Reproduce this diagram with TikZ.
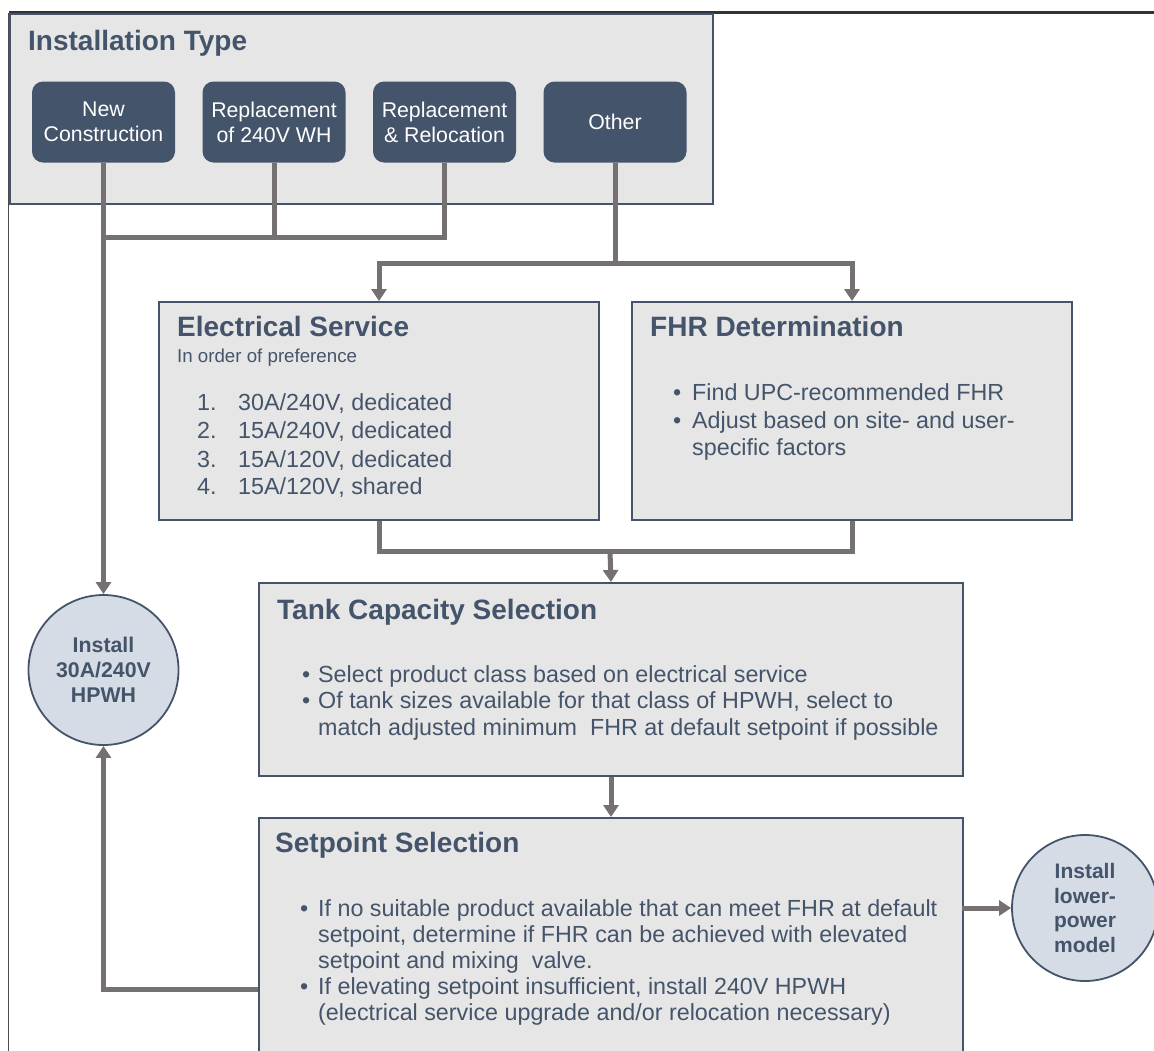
\documentclass[tikz,border=0pt]{standalone}
\usepackage{fontspec}
\setmainfont{Liberation Sans}
\usetikzlibrary{arrows.meta,shapes.geometric}
\definecolor{slate}{HTML}{44546A}
\definecolor{boxfill}{HTML}{E7E6E6}
\definecolor{circfill}{HTML}{D6DCE5}
\definecolor{conncol}{HTML}{767171}
\begin{document}
\begin{tikzpicture}[x=1pt,y=-1pt,
 panel/.style={draw=slate,line width=2pt,fill=boxfill,inner sep=0,anchor=north west},
 choice/.style={fill=slate,rounded corners=11pt,inner sep=0,minimum width=143pt,minimum height=81pt,text=white,align=center,font=\fontsize{21.3}{25}\selectfont},
 endc/.style={circle,draw=slate,line width=1.8pt,fill=circfill,inner sep=0,text=slate,align=center,font=\bfseries\fontsize{21.3}{25}\selectfont},
 ttl/.style={anchor=base west,inner sep=0,text=slate,font=\bfseries\fontsize{28}{30}\selectfont},
 body/.style={anchor=base west,inner sep=0,text=slate,font=\fontsize{23.3}{27}\selectfont},
 small/.style={anchor=base west,inner sep=0,text=slate,font=\fontsize{18.7}{22}\selectfont},
 conn/.style={draw=conncol,line width=5pt},
 arr/.style={conn,-{Triangle[width=15pt,length=12pt]}}
]
\clip (0,0) rectangle (1154,1050);
\fill[white] (0,0) rectangle (1154,1050);
\draw[black!70,line width=1pt] (8.5,1060) -- (8.5,13);
\draw[black!80,line width=2.2pt] (8.5,12.5) -- (1160,12.5);

% panels
\node[panel,minimum width=703pt,minimum height=190pt] (inst) at (9,13) {};
\node[panel,minimum width=440pt,minimum height=218pt] (elec) at (158,301) {};
\node[panel,minimum width=440pt,minimum height=218pt] (fhr) at (631,301) {};
\node[panel,minimum width=704pt,minimum height=193pt] (tank) at (258,582) {};
\node[panel,minimum width=704pt,minimum height=253pt] (setp) at (258,817) {};

% titles
\node[ttl] (tinst) at (28,50) {Installation Type};
\node[ttl] (telec) at (177,336) {Electrical Service};
\node[small] (pref) at (177,362) {In order of preference};
\node[ttl] (tfhr) at (650,336) {FHR Determination};
\node[ttl] (ttank) at (277,619) {Tank Capacity Selection};
\node[ttl] (tsetp) at (275,852) {Setpoint Selection};

% choices
\node[choice] (nc) at (103.5,122) {New\\Construction};
\node[choice] (r240) at (274,122) {Replacement\\of 240V WH};
\node[choice] (rrel) at (444.5,122) {Replacement\\\& Relocation};
\node[choice] (oth) at (615,122) {Other};

% electrical list
\node[body] (n1) at (197,410) {1.};
\node[body] (l1) at (238,410) {30A/240V, dedicated};
\node[body] (n2) at (197,438) {2.};
\node[body] (l2) at (238,438) {15A/240V, dedicated};
\node[body] (n3) at (197,467) {3.};
\node[body] (l3) at (238,467) {15A/120V, dedicated};
\node[body] (n4) at (197,494) {4.};
\node[body] (l4) at (238,494) {15A/120V, shared};

% FHR bullets
\node[body] (fb1) at (673,400) {•};
\node[body] (f1) at (692,400) {Find UPC-recommended FHR};
\node[body] (fb2) at (673,428) {•};
\node[body] (f2) at (692,428) {Adjust based on site- and user-};
\node[body] (f3) at (692,455) {specific factors};

% tank bullets
\node[body] (tb1) at (302,682) {•};
\node[body] (t1) at (318,682) {Select product class based on electrical service};
\node[body] (tb2) at (302,708) {•};
\node[body] (t2) at (318,708) {Of tank sizes available for that class of HPWH, select to};
\node[body] (t3) at (318,735) {match adjusted minimum\ \ FHR at default setpoint if possible};

% setpoint bullets
\node[body] (sb1) at (300,916) {•};
\node[body] (s1) at (318,916) {If no suitable product available that can meet FHR at default};
\node[body] (s2) at (318,942) {setpoint, determine if FHR can be achieved with elevated};
\node[body] (s3) at (318,968) {setpoint and mixing\ \ valve.};
\node[body] (sb2) at (300,994) {•};
\node[body] (s4) at (318,994) {If elevating setpoint insufficient, install 240V HPWH};
\node[body] (s5) at (318,1020) {(electrical service upgrade and/or relocation necessary)};

% end circles
\node[endc,minimum size=150pt] (c1) at (103.5,670) {Install\\30A/240V\\HPWH};
\node[endc,minimum size=146pt,font=\bfseries\fontsize{21}{24.5}\selectfont] (c2) at (1085,908) {Install\\lower-\\power\\model};

% junction coordinates
\coordinate (j1) at (103.5,237);
\coordinate (j2) at (615,263);
\coordinate (j3) at (610,551);
\coordinate (lp) at (103.5,989);
\coordinate (rp) at (962,908);

% connectors
\draw[conn] (r240.south) |- (j1);
\draw[conn] (rrel.south) |- (j1);
\draw[arr] (nc.south) -- (c1.north);
\draw[conn] (oth.south) -- (j2);
\draw[arr] (j2) -| (elec.north);
\draw[arr] (j2) -| (fhr.north);
\draw[conn] (elec.south) |- (j3) -| (fhr.south);
\draw[arr] (j3) -- (tank.north);
\draw[arr] (tank.south) -- (setp.north);
\draw[arr] (rp) -- (c2.west);
\draw[arr] (setp.north west |- lp) -| (c1.south);
\end{tikzpicture}
\end{document}
